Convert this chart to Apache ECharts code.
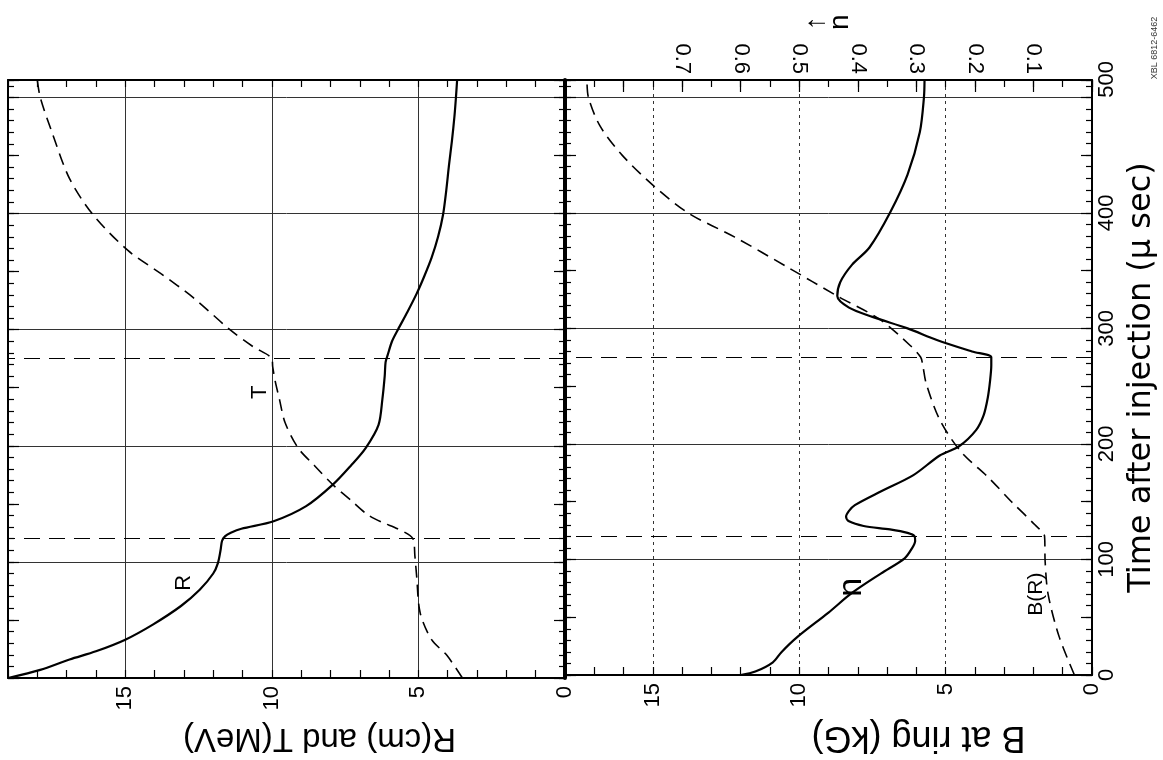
<!DOCTYPE html>
<html><head><meta charset="utf-8">
<script src="https://cdn.jsdelivr.net/npm/echarts@6.0.0/dist/echarts.min.js"></script>
<style>html,body{margin:0;padding:0;background:#fff}#c{width:1163px;height:760px}</style>
</head><body><div id="c"></div>
<script>
// ---- data (time in microseconds after injection) ----
const timeTicks = [0, 100, 200, 300, 400, 500];
const rtTicks = [0, 5, 10, 15];
const bTicks = [0, 5, 10, 15];
const nTicks = [0.1, 0.2, 0.3, 0.4, 0.5, 0.6, 0.7];

const rTime   = [0, 7, 16, 23, 33, 46, 62, 76, 90, 99, 110, 118, 122, 125, 128.5, 135, 148, 166.5, 183, 198, 218, 240, 260, 272, 278, 290, 300, 315, 331, 346, 362, 380, 399, 420, 441, 462, 484, 500, 515];
const rValues = [19.0, 17.9, 16.9, 16.0, 15.0, 14.06, 13.1, 12.46, 12.0, 11.84, 11.75, 11.7, 11.6, 11.4, 11.04, 9.94, 8.83, 7.92, 7.3, 6.8, 6.36, 6.23, 6.15, 6.12, 6.05, 5.9, 5.7, 5.38, 5.06, 4.8, 4.55, 4.33, 4.16, 4.05, 3.96, 3.86, 3.77, 3.72, 3.68];

const tTime   = [0, 19.5, 33, 56, 87.5, 105, 120, 128.5, 134, 141, 153, 166.5, 183, 198, 220, 240, 255, 268, 275, 285.5, 300, 328, 348, 368, 399, 430, 470, 500, 515];
const tValues = [3.5, 4.03, 4.55, 4.94, 5.06, 5.12, 5.19, 5.71, 6.23, 6.75, 7.3, 7.92, 8.55, 9.1, 9.55, 9.74, 9.88, 9.97, 10.0, 10.65, 11.43, 12.7, 13.77, 14.9, 16.1, 16.9, 17.5, 17.9, 18.0];

const bTime   = [0, 33, 70, 98, 120, 130, 150, 170, 194, 221, 252, 268, 275, 285, 308, 328, 353, 379, 400, 424, 450, 475, 500, 515];
const bValues = [0.6, 1.12, 1.5, 1.6, 1.62, 1.95, 2.75, 3.5, 4.5, 5.2, 5.66, 5.78, 5.85, 6.2, 7.26, 8.7, 10.4, 12.2, 13.8, 15.0, 16.05, 16.8, 17.2, 17.25];

const nTime   = [0, 3, 11, 20, 33, 54, 71, 88, 101, 110, 116, 120, 123, 126, 129, 133, 137, 142, 147, 159, 173, 190, 198, 212, 225, 240, 255, 268, 275, 280, 290, 300, 310, 318, 328, 340, 355, 370, 400, 433, 470, 500, 515];
const nValues = [0.600, 0.575, 0.545, 0.53, 0.503, 0.45, 0.41, 0.36, 0.32, 0.307, 0.302, 0.303, 0.315, 0.345, 0.39, 0.415, 0.42, 0.415, 0.405, 0.36, 0.305, 0.26, 0.227, 0.198, 0.185, 0.178, 0.174, 0.172, 0.172, 0.205, 0.265, 0.315, 0.375, 0.415, 0.435, 0.43, 0.41, 0.38, 0.345, 0.315, 0.294, 0.287, 0.286];

const transitionTimes = [120, 275];
const curveLabels = ['R', 'T', 'n', 'B(R)'];
const curveLabelAt = [[13.0, 82], [10.4, 246], [0.41, 76], [1.9, 70]]; // [value, time]

// ---- rendering ----
const TMAX = 515, RMAX = 19, BMAX = 18, NMAX = 0.9;
const FONT = 'Liberation Sans';
const INK = '#000';
const pair = (vals, times) => vals.map((v, i) => [v, times[i]]);
const inList = (list, v, eps) => list.some(t => Math.abs(t - v) < eps);

function yTick(grid, pos, interval, len, extra) {
  return Object.assign({
    type: 'value', gridIndex: grid, position: pos, min: 0, max: TMAX, interval: interval,
    axisLine: { show: false, onZero: false },
    axisTick: { show: true, inside: true, length: len, lineStyle: { color: INK, width: 1.2 } },
    axisLabel: { show: false }, splitLine: { show: false }
  }, extra || {});
}
function xTick(grid, pos, max, interval, len, extra) {
  return Object.assign({
    type: 'value', gridIndex: grid, position: pos, min: 0, max: max, interval: interval, inverse: true,
    axisLine: { show: false, onZero: false },
    axisTick: { show: true, inside: true, length: len, lineStyle: { color: INK, width: 1.2 } },
    axisLabel: { show: false }, splitLine: { show: false }
  }, extra || {});
}
const frame = w => ({ show: true, onZero: false, lineStyle: { color: INK, width: w } });

const xAxes = [
  // 0: R/T value axis (bottom, left panel) with labels and grid lines
  xTick(0, 'bottom', RMAX, 5, 0, {
    axisLine: frame(2), axisTick: { show: false },
    axisLabel: { show: true, rotate: 90, margin: 8, color: INK, fontSize: 22, fontFamily: FONT,
      formatter: v => inList(rtTicks, v, 1e-6) ? String(v) : '' },
    splitLine: { show: true, lineStyle: { color: '#333', width: 1 } },
    name: 'R(cm) and T(MeV)', nameLocation: 'middle', nameGap: 44, nameRotate: 180,
    nameTextStyle: { color: INK, fontSize: 33, fontFamily: FONT, padding: [0, 66, 0, 0] }
  }),
  xTick(0, 'bottom', RMAX, 1, 8),
  xTick(0, 'top', RMAX, 1, 7, { axisLine: frame(2) }),
  // 3: B axis (bottom, right panel)
  xTick(1, 'bottom', BMAX, 5, 0, {
    axisLine: frame(2), axisTick: { show: false },
    axisLabel: { show: true, rotate: 90, margin: 8, color: INK, fontSize: 22, fontFamily: FONT,
      formatter: v => inList(bTicks, v, 1e-6) ? String(v) : '' },
    splitLine: { show: true, lineStyle: { color: '#333', width: 1, type: [3, 4] } },
    name: 'B at ring (kG)', nameLocation: 'middle', nameGap: 44, nameRotate: 180,
    nameTextStyle: { color: INK, fontSize: 36, fontFamily: FONT, padding: [0, 180, 0, 0] }
  }),
  xTick(1, 'bottom', BMAX, 1, 8),
  // 5: n axis (top, right panel)
  xTick(1, 'top', NMAX, 0.1, 12, {
    axisLine: frame(2),
    axisLabel: { show: true, rotate: 90, margin: 6, color: INK, fontSize: 22, fontFamily: FONT,
      formatter: v => inList(nTicks, v, 1e-6) ? v.toFixed(1) : '' },
    name: '↑\nn', nameLocation: 'middle', nameGap: 50, nameRotate: 90,
    nameTextStyle: { color: INK, fontSize: 28, fontFamily: FONT, lineHeight: 24 }
  }),
  xTick(1, 'top', NMAX, 0.05, 7)
];

const yAxes = [
  // grid 0 (left panel)
  yTick(0, 'left', 10, 6, { axisLine: frame(2) }),
  yTick(0, 'left', 50, 11),
  yTick(0, 'right', 10, 6, { axisLine: frame(4) }),
  yTick(0, 'right', 50, 11),
  yTick(0, 'right', 100, 0, { axisTick: { show: false },
    splitLine: { show: true, lineStyle: { color: '#333', width: 1 } } }),
  // grid 1 (right panel)
  yTick(1, 'left', 10, 6, { axisLine: frame(2) }),
  yTick(1, 'left', 50, 11),
  yTick(1, 'right', 10, 6, { axisLine: frame(2) }),
  yTick(1, 'right', 50, 11),
  yTick(1, 'right', 100, 0, { axisTick: { show: false },
    splitLine: { show: true, lineStyle: { color: '#333', width: 1 } },
    axisLabel: { show: true, rotate: 90, margin: 4, color: INK, fontSize: 22, fontFamily: FONT,
      formatter: v => {
        if (!inList(timeTicks, v, 1e-6)) return '';
        return v === 500 ? '{up|' + v + '}' : String(v);
      },
      rich: { up: { fontSize: 22, fontFamily: FONT, color: INK, padding: [0, 0, 0, 36] } } },
    name: 'Time after injection (μ sec)', nameLocation: 'middle', nameGap: 34, nameRotate: 90,
    nameTextStyle: { color: INK, fontSize: 32, fontFamily: 'DejaVu Sans' } })
];

const transitionLines = {
  silent: true, symbol: ['none', 'none'], label: { show: false },
  lineStyle: { type: [16, 9], color: INK, width: 1.2 },
  data: transitionTimes.map(t => ({ yAxis: t }))
};
function curveLabel(i, size) {
  return {
    symbol: 'circle', symbolSize: 1, itemStyle: { color: 'rgba(0,0,0,0)' }, silent: true,
    label: { show: true, position: 'inside', rotate: 90, color: INK, fontSize: size, fontFamily: FONT, formatter: '{b}' },
    data: [{ name: curveLabels[i], coord: curveLabelAt[i] }]
  };
}
const lineBase = { type: 'line', showSymbol: false, smooth: 0.3, silent: true };

const option = {
  animation: false,
  backgroundColor: '#fff',
  grid: [
    { left: 8, top: 80, width: 557, height: 606 },
    { left: 565, top: 80, width: 527, height: 606 }
  ],
  xAxis: xAxes,
  yAxis: yAxes,
  series: [
    Object.assign({}, lineBase, { name: 'R', xAxisIndex: 0, yAxisIndex: 0, data: pair(rValues, rTime),
      lineStyle: { color: INK, width: 2.2 }, markLine: transitionLines, markPoint: curveLabel(0, 22) }),
    Object.assign({}, lineBase, { name: 'T', xAxisIndex: 0, yAxisIndex: 0, data: pair(tValues, tTime),
      lineStyle: { color: INK, width: 1.6, type: [12, 7] }, markPoint: curveLabel(1, 22) }),
    Object.assign({}, lineBase, { name: 'B(R)', xAxisIndex: 3, yAxisIndex: 5, data: pair(bValues, bTime),
      lineStyle: { color: INK, width: 1.6, type: [12, 7] }, markLine: transitionLines, markPoint: curveLabel(3, 21) }),
    Object.assign({}, lineBase, { name: 'n', xAxisIndex: 5, yAxisIndex: 5, data: pair(nValues, nTime),
      lineStyle: { color: INK, width: 2.2 }, markPoint: curveLabel(2, 34) })
  ],
  graphic: [{
    type: 'text', x: 1155, y: 48, rotation: Math.PI / 2, silent: true,
    style: { text: 'XBL 6812-6462', fontSize: 9, fill: '#333', fontFamily: FONT, align: 'center', verticalAlign: 'middle' }
  }]
};

const chart = echarts.init(document.getElementById('c'), null, { renderer: 'canvas' });
chart.setOption(option);
</script>
</body></html>
